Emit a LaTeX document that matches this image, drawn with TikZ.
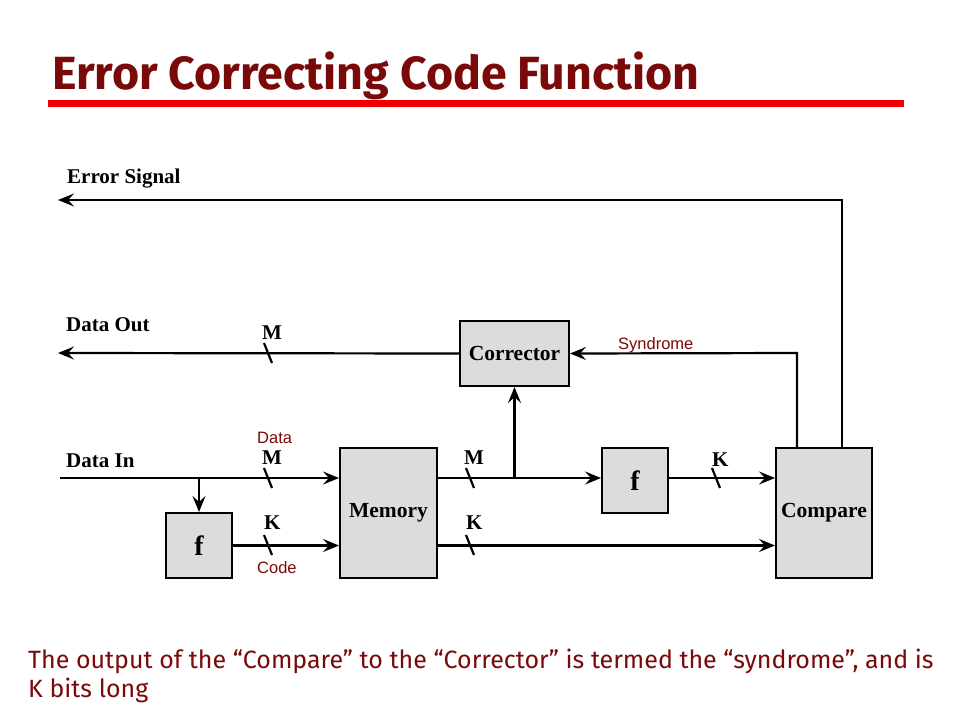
\documentclass[tikz,border=0pt]{standalone}
\usepackage{fontspec}
\setmainfont{Liberation Serif}
\newfontfamily\comicfont{Fira Sans}
\newfontfamily\labelfont{Liberation Sans}
\usetikzlibrary{arrows.meta}
\definecolor{darkred}{HTML}{7A0A0A}
\definecolor{barred}{HTML}{EE0000}
\definecolor{boxgray}{HTML}{DCDCDC}
\tikzset{
  blk/.style={draw=black, line width=2pt, fill=boxgray, inner sep=0pt, font=\bfseries\fontsize{21.5}{24}\selectfont},
  wire/.style={line width=2.2pt, draw=black},
  arr/.style={wire, -{Stealth[length=16pt,width=13pt,inset=6pt]}},
  bus/.style={line width=2.2pt},
  lbl/.style={font=\bfseries\fontsize{21}{23}\selectfont, inner sep=0pt, anchor=base west},
  redlbl/.style={font=\labelfont\fontsize{16.5}{18}\selectfont, text=darkred, inner sep=0pt, anchor=base west},
  captxt/.style={inner sep=0pt, anchor=base west, text=darkred, font=\comicfont\fontsize{25}{29}\selectfont}
}
\begin{document}
\begin{tikzpicture}[x=1pt,y=-1pt]
\useasboundingbox (0,0) rectangle (960,720);
\fill[white] (0,0) rectangle (960,720);
% title
\node[inner sep=0pt, anchor=base west, text=darkred, font=\comicfont\bfseries\fontsize{46.5}{50}\selectfont] (title) at (52,89) {Error Correcting Code Function};
\fill[barred] (48,100) rectangle (904,107);
% boxes
\node[blk, minimum width=109pt, minimum height=65pt] (corr) at (514.5,353.5) {Corrector};
\node[blk, minimum width=66pt, minimum height=65pt, font=\bfseries\fontsize{28}{30}\selectfont] (f1) at (199,545.5) {f};
\node[blk, minimum width=97pt, minimum height=130pt] (mem) at (388.5,513) {Memory};
\node[blk, minimum width=66pt, minimum height=65pt, font=\bfseries\fontsize{28}{30}\selectfont] (f2) at (635,480.5) {f};
\node[blk, minimum width=96pt, minimum height=130pt] (cmp) at (824,513) {Compare};
% text labels
\node[lbl] (es) at (67,183) {Error Signal};
\node[lbl] (dout) at (66,331) {Data Out};
\node[lbl] (din) at (66,467) {Data In};
% coordinates
\coordinate (esend) at (58,200);
\coordinate (doend) at (58,353);
\coordinate (distart) at (60,478);
\coordinate (br1) at (199,478);
\coordinate (br2) at (514.5,478);
\coordinate (escorner) at (842,200);
\coordinate (syncorner) at (797,353);
% connectors
\draw[arr] (cmp.north -| escorner) -- (escorner) -- (esend);
\draw[arr] (corr.west) -- (doend);
\draw[arr] (cmp.north -| syncorner) -- (syncorner) -- (corr.east);
\draw[arr] (distart) -- (distart -| mem.west);
\draw[arr] (br1) -- (br1 |- f1.north);
\draw[arr] (f1.east) -- (f1.east -| mem.west);
\draw[wire] (mem.east |- br2) -- (br2);
\draw[arr] (br2) -- (br2 -| f2.west);
\draw[arr] (br2) -- (br2 |- corr.south);
\draw[arr] (f2.east |- br2) -- (br2 -| cmp.west);
\draw[arr] (mem.east |- f1.east) -- (f1.east -| cmp.west);
% bus slashes
\foreach \x/\y in {268/353, 268/478, 268/545, 470/478, 470/545, 716/478}
  \draw[bus] (\x-4,\y-10) -- (\x+4,\y+10);
% bus labels
\node[lbl] (m1) at (262,339) {M};
\node[lbl] (m2) at (262,464) {M};
\node[lbl] (k1) at (264,529) {K};
\node[lbl] (m3) at (464,464) {M};
\node[lbl] (k2) at (466,529) {K};
\node[lbl] (k3) at (712,466) {K};
\node[redlbl] (dlab) at (257,443) {Data};
\node[redlbl] (clab) at (257,573) {Code};
\node[redlbl] (syn) at (618,349) {Syndrome};
% caption
\node[captxt] (cap1) at (28,668) {The output of the “Compare” to the “Corrector” is termed the “syndrome”, and is};
\node[captxt] (cap2) at (28,697) {K bits long};
\end{tikzpicture}
\end{document}
